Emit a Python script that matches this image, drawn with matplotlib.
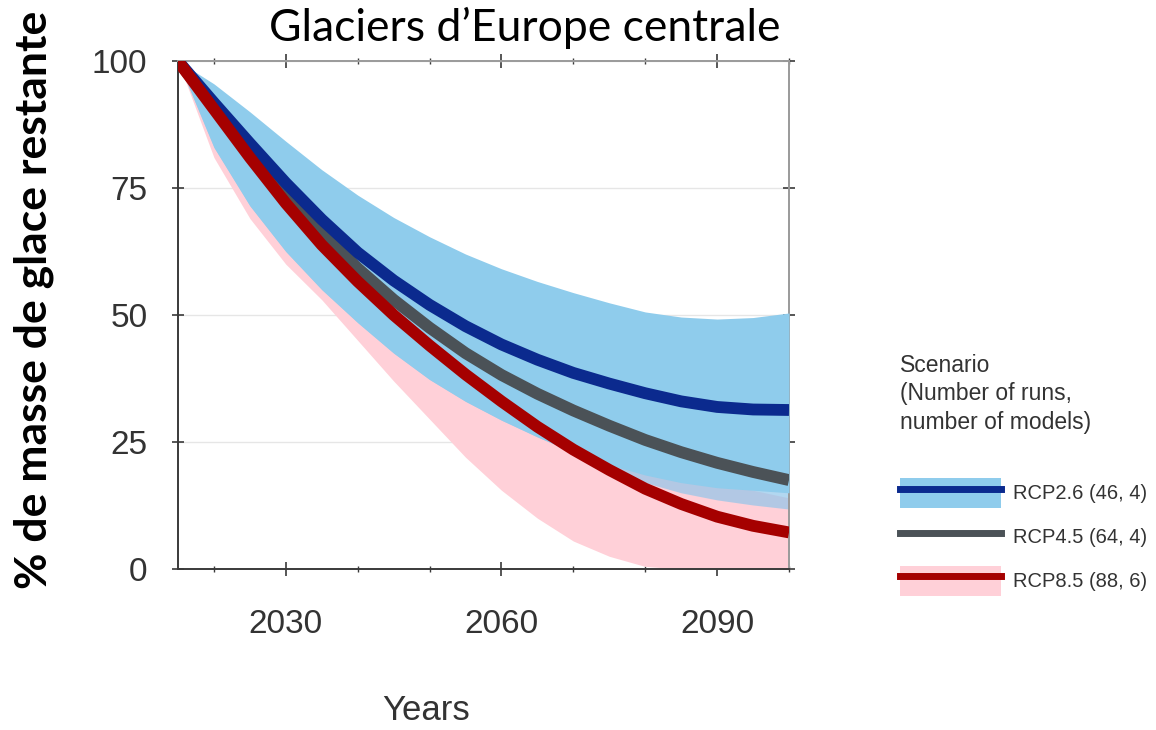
import matplotlib
matplotlib.use("Agg")
import matplotlib.pyplot as plt
from matplotlib import font_manager
from matplotlib.patches import Patch
from matplotlib.lines import Line2D

# ---------------- data ----------------
years = [2015, 2020, 2025, 2030, 2035, 2040, 2045, 2050, 2055, 2060,
         2065, 2070, 2075, 2080, 2085, 2090, 2095, 2100]

rcp26_median = [100, 91.8, 83.8, 76, 68.8, 62.3, 56.8, 52, 47.8, 44.2,
                41.2, 38.6, 36.5, 34.6, 33, 31.9, 31.4, 31.3]
rcp26_upper = [100, 95.5, 90, 84.2, 78.6, 73.6, 69.2, 65.4, 62, 59.1,
               56.6, 54.4, 52.4, 50.6, 49.6, 49.2, 49.5, 50.4]
rcp26_lower = [100, 83, 71.5, 62.5, 55, 48.5, 42.5, 37.3, 33, 29.3,
               26, 23, 20.5, 18.5, 17, 16, 15.5, 15]

rcp45_median = [100, 91, 82.3, 74, 66.2, 59.2, 53, 47.5, 42.5, 38.2,
                34.5, 31.2, 28.2, 25.4, 23, 20.9, 19.1, 17.5]
rcp45_upper = [100, 94, 87, 80, 73, 67, 61, 56, 51, 47,
               43.5, 40.5, 38, 35.5, 33.5, 32, 30.5, 29.5]
rcp45_lower = [100, 83, 71.5, 62.5, 55, 48.5, 42.5, 37.3, 33, 29.3,
               26, 23, 19.5, 17, 15, 13.6, 12.6, 11.8]

rcp85_median = [100, 90.5, 81, 72, 63.8, 56.6, 50, 44, 38.3, 33,
                28, 23.5, 19.5, 15.8, 12.8, 10.3, 8.5, 7.2]
rcp85_upper = [100, 93, 86, 78, 71, 64, 58, 52, 46, 41,
               36, 31, 27, 23, 20, 17.5, 15.5, 14]
rcp85_lower = [100, 81, 69, 60, 53, 45, 37, 29.5, 22, 15.5,
               10, 5.5, 2.5, 0.5, 0, 0, 0, 0]

scenario_labels = ["RCP2.6 (46, 4)", "RCP4.5 (64, 4)", "RCP8.5 (88, 6)"]
legend_title = "Scenario\n(Number of runs,\nnumber of models)"
x_ticks_major = [2030, 2060, 2090]
x_ticks_minor = [2020, 2040, 2050, 2070, 2080, 2100]
y_ticks = [0, 25, 50, 75, 100]

# ---------------- fonts ----------------
available = {f.name for f in font_manager.fontManager.ttflist}
regular = "Liberation Sans"
title_font = "Lato" if "Lato" in available else "DejaVu Sans"

# ---------------- colours ----------------
c_band26 = "#8FCCEC"
c_band45 = "#92C6EA"
c_band85 = "#FFD0D8"
c_line26 = "#0B2A8E"
c_line45 = "#4B5257"
c_line85 = "#A50000"
c_text = "#333333"

fig = plt.figure(figsize=(11.56, 7.30), dpi=100)
ax = fig.add_axes([178/1156, 1-569/730, (789-178)/1156, (569-61)/730])

ax.fill_between(years, rcp85_lower, rcp85_upper, color=c_band85, lw=0, zorder=1)
ax.fill_between(years, rcp45_lower, rcp45_upper, color=c_band45, alpha=0.7, lw=0, zorder=2)
ax.fill_between(years, rcp26_lower, rcp26_upper, color=c_band26, lw=0, zorder=3)

lw = 8.5
ax.plot(years, rcp45_median, color=c_line45, lw=lw, solid_capstyle="butt", zorder=5)
ax.plot(years, rcp26_median, color=c_line26, lw=lw, solid_capstyle="butt", zorder=6)
ax.plot(years, rcp85_median, color=c_line85, lw=lw, solid_capstyle="butt", zorder=7)

ax.set_xlim(2015, 2100)
ax.set_ylim(0, 100)
ax.set_xticks(x_ticks_major)
ax.set_xticks(x_ticks_minor, minor=True)
ax.set_yticks(y_ticks)
ax.grid(axis="y", color="#E6E6E6", lw=1.0, zorder=0)
ax.set_axisbelow(True)

for side in ["left", "bottom"]:
    ax.spines[side].set_color("#3A3A3A")
    ax.spines[side].set_linewidth(1.4)
for side in ["top", "right"]:
    ax.spines[side].set_color("#9A9A9A")
    ax.spines[side].set_linewidth(1.4)

ax.tick_params(axis="both", which="both", direction="inout", top=True, right=True,
               colors="#3A3A3A")
ax.tick_params(axis="x", which="major", length=10, width=1.2, pad=24)
ax.tick_params(axis="x", which="minor", length=5, width=1.0)
ax.tick_params(axis="y", which="major", length=8, width=1.2, pad=18)

for lab in ax.get_xticklabels() + ax.get_yticklabels():
    lab.set_fontfamily(regular)
    lab.set_fontsize(24)
    lab.set_color(c_text)

# axis labels / title
fig.text(426/1156, 1-710/730, "Years", ha="center", va="center",
         fontsize=25, family=regular, color=c_text)
fig.text(34/1156, 1-300/730, "% de masse de glace restante", rotation=90,
         ha="center", va="center", fontsize=32, fontweight="bold",
         family=title_font, color="black")
fig.text(525/1156, 1-28/730, "Glaciers d\u2019Europe centrale", ha="center", va="center",
         fontsize=32, family=title_font, color="black")

# legend
fig.text(900/1156, 1-354/730, legend_title, ha="left", va="top",
         fontsize=16.5, family=regular, color=c_text, linespacing=1.3)
handles = [
    (Patch(facecolor=c_band26, edgecolor="none"), Line2D([], [], color=c_line26, lw=5)),
    Line2D([], [], color=c_line45, lw=5),
    (Patch(facecolor=c_band85, edgecolor="none"), Line2D([], [], color=c_line85, lw=5)),
]
leg = fig.legend(handles, scenario_labels,
                 loc="upper left", bbox_to_anchor=(900/1156, 1-478/730),
                 frameon=False, prop={"family": regular, "size": 14.5},
                 handlelength=5.0, handleheight=1.9, labelspacing=0.7,
                 handletextpad=0.6, borderpad=0, borderaxespad=0)
for t in leg.get_texts():
    t.set_color(c_text)

fig.savefig("out.png", dpi=100)
